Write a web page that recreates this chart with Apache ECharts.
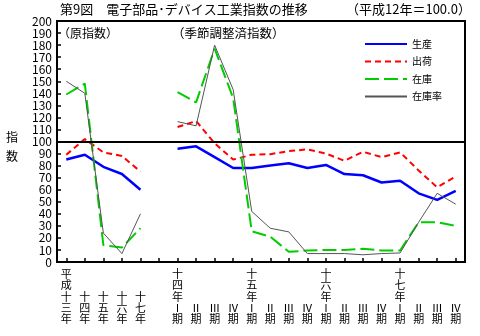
<!DOCTYPE html>
<html><head><meta charset="utf-8">
<script src="https://cdn.jsdelivr.net/npm/echarts@6/dist/echarts.min.js"></script>
<style>html,body{margin:0;padding:0;background:#fff}#c{width:480px;height:336px}</style>
</head><body><div id="c"></div>
<script>
const categories = ['平成十三年','十四年','十五年','十六年','十七年','',
  '十四年Ⅰ期','Ⅱ期','Ⅲ期','Ⅳ期','十五年Ⅰ期','Ⅱ期','Ⅲ期','Ⅳ期',
  '十六年Ⅰ期','Ⅱ期','Ⅲ期','Ⅳ期','十七年Ⅰ期','Ⅱ期','Ⅲ期','Ⅳ期'];
const production = [85, 89, 79, 73, 60, null, 94, 96, 87, 78, 78, 80, 82, 78, 80.5, 73, 72, 66, 67.5, 57, 51.5, 59];
const shipments  = [89, 102, 91, 88, 75, null, 112, 117, 98.5, 85, 89, 89.5, 92, 93.5, 90, 84, 91.5, 87, 91, 76, 62, 71];
const inventory  = [139, 148, 14, 12, 28, null, 141, 132.5, 177, 136, 25.5, 21, 8.5, 9.5, 10, 10, 11, 9.5, 9.5, 33, 33, 30];
const invRatio   = [150, 140, 24, 7, 40, null, 116.5, 113, 180, 143, 42, 28, 25, 7, 7, 7, 6, 7, 7.5, 33, 57, 48];
const seriesNames = ['生産','出荷','在庫','在庫率'];
const yMin = 0, yMax = 200, yStep = 10, baseLine = 100;

const FONT = '"Noto Sans CJK JP", sans-serif';
const chart = echarts.init(document.getElementById('c'), null, {renderer:'canvas'});

function vertLabel(v){
  if(!v) return '';
  const chars = Array.from(v);
  while(chars.length < 5) chars.unshift('　');
  return chars.join('\n');
}

chart.setOption({
  animation:false,
  backgroundColor:'#fff',
  textStyle:{fontFamily:FONT},
  grid:{left:57,right:15,top:21,bottom:74,show:true,borderColor:'#000',borderWidth:2,backgroundColor:'transparent'},
  legend:{
    orient:'vertical', left:364, top:34,
    itemWidth:42, itemHeight:10, itemGap:7.5, padding:[5,5,5,0],
    itemStyle:{opacity:0},
    textStyle:{fontSize:10,color:'#000',fontFamily:FONT},
    data:seriesNames
  },
  xAxis:{
    type:'category', data:categories, boundaryGap:true,
    axisLine:{show:true,lineStyle:{color:'#000',width:2}},
    axisTick:{show:true,inside:true,alignWithLabel:true,length:4,interval:0,lineStyle:{color:'#000',width:1.5}},
    axisLabel:{interval:0,formatter:vertLabel,fontSize:11,lineHeight:11.4,color:'#000',margin:6,fontFamily:FONT},
    splitLine:{show:false}
  },
  yAxis:{
    type:'value', min:yMin, max:yMax, interval:yStep,
    axisLine:{show:true,lineStyle:{color:'#000',width:2}},
    axisTick:{show:true,inside:true,length:4,lineStyle:{color:'#000',width:1.5}},
    axisLabel:{fontSize:12,color:'#000',margin:5,fontFamily:FONT},
    splitLine:{show:false}
  },
  series:[
    {name:seriesNames[0],type:'line',data:production,symbol:'none',connectNulls:false,
     lineStyle:{color:'#0000ff',width:2.5},itemStyle:{color:'#0000ff'},
     markLine:{silent:true,symbol:'none',label:{show:false},lineStyle:{color:'#000',width:2,type:'solid'},data:[{yAxis:baseLine}]}},
    {name:seriesNames[1],type:'line',data:shipments,symbol:'none',
     lineStyle:{color:'#ff0000',width:2,type:[6,4]},itemStyle:{color:'#ff0000'}},
    {name:seriesNames[2],type:'line',data:inventory,symbol:'none',
     lineStyle:{color:'#00cc00',width:2,type:[14,5]},itemStyle:{color:'#00cc00'}},
    {name:seriesNames[3],type:'line',data:invRatio,symbol:'none',
     lineStyle:{color:'#555555',width:1},itemStyle:{color:'#555555'}}
  ],
  graphic:[
    {type:'text',left:60,top:3,style:{text:'第9図　電子部品･デバイス工業指数の推移',font:'13px '+FONT,fill:'#000'}},
    {type:'text',left:346,top:3,style:{text:'（平成12年＝100.0）',font:'13px '+FONT,fill:'#000'}},
    {type:'text',left:58,top:27,style:{text:'（原指数）',font:'12px '+FONT,fill:'#000'}},
    {type:'text',left:172,top:27,style:{text:'（季節調整済指数）',font:'12.5px '+FONT,fill:'#000'}},
    {type:'text',left:6,top:131,style:{text:'指',font:'12px '+FONT,fill:'#000'}},
    {type:'text',left:6,top:150,style:{text:'数',font:'12px '+FONT,fill:'#000'}}
  ]
});
</script></body></html>
